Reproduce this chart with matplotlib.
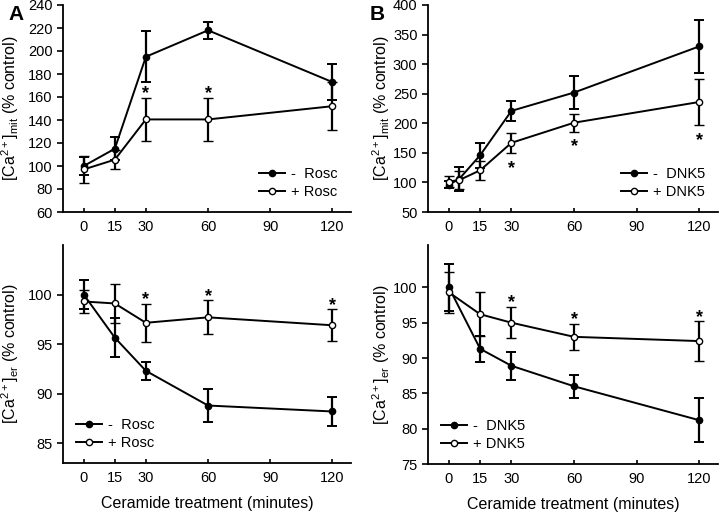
import numpy as np
import matplotlib
matplotlib.use('Agg')
import matplotlib.pyplot as plt
from matplotlib.lines import Line2D

plt.rcParams['font.family'] = ['Liberation Sans', 'DejaVu Sans']
plt.rcParams['mathtext.default'] = 'regular'

# panel A, mitochondrial Ca
tA = [0, 15, 30, 60, 120]
mit_minus_rosc = [100, 115, 195, 218, 173]
mit_minus_rosc_err = [8, 10, 22, 7.5, 16]
mit_plus_rosc = [97, 105.5, 140.5, 140.5, 152]
mit_plus_rosc_err = [11.5, 8, 19, 18.5, 21]
mit_A_star = [30, 60]

# panel A, ER Ca
er_minus_rosc = [100, 95.65, 92.3, 88.8, 88.2]
er_minus_rosc_err = [1.5, 2.0, 0.9, 1.7, 1.5]
er_plus_rosc = [99.3, 99.1, 97.15, 97.7, 96.9]
er_plus_rosc_err = [1.2, 1.95, 1.9, 1.7, 1.6]
er_A_star = [30, 60, 120]

# panel B, mitochondrial Ca
tB_mit = [0, 5, 15, 30, 60, 120]
mit_minus_dnk = [96, 106, 146, 221, 252, 330]
mit_minus_dnk_err = [6, 20, 21, 16.5, 28.5, 44.5]
mit_plus_dnk = [101.5, 104, 120.5, 167, 201, 236]
mit_plus_dnk_err = [10, 15, 16, 17, 15, 39]
mit_B_star = [30, 60, 120]

# panel B, ER Ca
tB_er = [0, 15, 30, 60, 120]
er_minus_dnk = [100, 91.3, 88.9, 86.0, 81.2]
er_minus_dnk_err = [3.3, 1.8, 1.95, 1.6, 3.1]
er_plus_dnk = [99.3, 96.2, 95.0, 93.0, 92.4]
er_plus_dnk_err = [2.9, 3.1, 2.2, 1.85, 2.8]
er_B_star = [30, 60, 120]

xticks = [0, 15, 30, 60, 90, 120]

W, H = 720, 512
fig = plt.figure(figsize=(W / 100, H / 100), dpi=100)


def axes_px(left, top, right, bottom):
    return fig.add_axes([left / W, 1 - bottom / H, (right - left) / W, (bottom - top) / H])


def draw(ax, t, y1, e1, y2, e2, lab, ylim, yticks, ylabel, stars, star_below, legloc):
    ax.errorbar(t, y1, yerr=e1, color='black', lw=1.4, marker='o', ms=4.5,
                mfc='black', mec='black', capsize=3.5, elinewidth=1.6, capthick=1.4, zorder=3)
    ax.errorbar(t, y2, yerr=e2, color='black', lw=1.4, marker='o', ms=4.5,
                mfc='white', mec='black', mew=1.0, capsize=3.5, elinewidth=1.6, capthick=1.4, zorder=4)
    for s in stars:
        i = list(t).index(s)
        if star_below:
            ax.annotate('*', (s, y2[i] - e2[i]), xytext=(0, -11), textcoords='offset points',
                        ha='center', va='center', fontsize=13, fontweight='bold')
        else:
            ax.annotate('*', (s, y2[i] + e2[i]), xytext=(0, 3), textcoords='offset points',
                        ha='center', va='center', fontsize=13, fontweight='bold')
    ax.set_xlim(-10, 129)
    ax.set_ylim(*ylim)
    ax.set_xticks(xticks)
    ax.set_yticks(yticks)
    ax.spines['top'].set_visible(False)
    ax.spines['right'].set_visible(False)
    for sp in ('left', 'bottom'):
        ax.spines[sp].set_linewidth(1.3)
    ax.tick_params(axis='y', direction='out', length=4, width=1.2, labelsize=10.5)
    ax.tick_params(axis='x', direction='in', length=3, width=1.2, labelsize=10.5, pad=6)
    ax.set_ylabel(ylabel, fontsize=11.5)
    handles = [
        Line2D([], [], color='black', lw=1.4, marker='o', ms=4.5, mfc='black', mec='black'),
        Line2D([], [], color='black', lw=1.4, marker='o', ms=4.5, mfc='white', mec='black'),
    ]
    ax.legend(handles, ['-  ' + lab, '+ ' + lab], loc=legloc, frameon=False, fontsize=10.5,
              handlelength=1.8, handletextpad=0.4, labelspacing=0.25)
    return ax


mit_lab = '[Ca$^{2+}$]$_{mit}$ (% control)'
er_lab = '[Ca$^{2+}$]$_{er}$ (% control)'

axA1 = axes_px(63, 5, 351, 212)
draw(axA1, tA, mit_minus_rosc, mit_minus_rosc_err, mit_plus_rosc, mit_plus_rosc_err,
     'Rosc', (60, 240), range(60, 241, 20), mit_lab, mit_A_star, False, 'lower right')

axA2 = axes_px(63, 245, 351, 463)
draw(axA2, tA, er_minus_rosc, er_minus_rosc_err, er_plus_rosc, er_plus_rosc_err,
     'Rosc', (83, 105), [85, 90, 95, 100], er_lab, er_A_star, False, 'lower left')
axA2.set_xlabel('Ceramide treatment (minutes)', fontsize=11.5, labelpad=8)

axB1 = axes_px(428, 5, 718, 212)
draw(axB1, tB_mit, mit_minus_dnk, mit_minus_dnk_err, mit_plus_dnk, mit_plus_dnk_err,
     'DNK5', (50, 400), range(50, 401, 50), mit_lab, mit_B_star, True, 'lower right')

axB2 = axes_px(428, 245, 718, 464)
draw(axB2, tB_er, er_minus_dnk, er_minus_dnk_err, er_plus_dnk, er_plus_dnk_err,
     'DNK5', (75, 106), [75, 80, 85, 90, 95, 100], er_lab, er_B_star, False, 'lower left')
axB2.set_xlabel('Ceramide treatment (minutes)', fontsize=11.5, labelpad=7.5)

for ax in (axA1, axA2):
    ax.yaxis.set_label_coords(-0.145, 0.5)
for ax in (axB1, axB2):
    ax.yaxis.set_label_coords(-0.125, 0.5)

fig.text(8 / W, 1 - 15 / H, 'A', fontsize=15, fontweight='bold', va='center')
fig.text(370 / W, 1 - 15 / H, 'B', fontsize=15, fontweight='bold', va='center')

fig.savefig('out.png', dpi=100)
